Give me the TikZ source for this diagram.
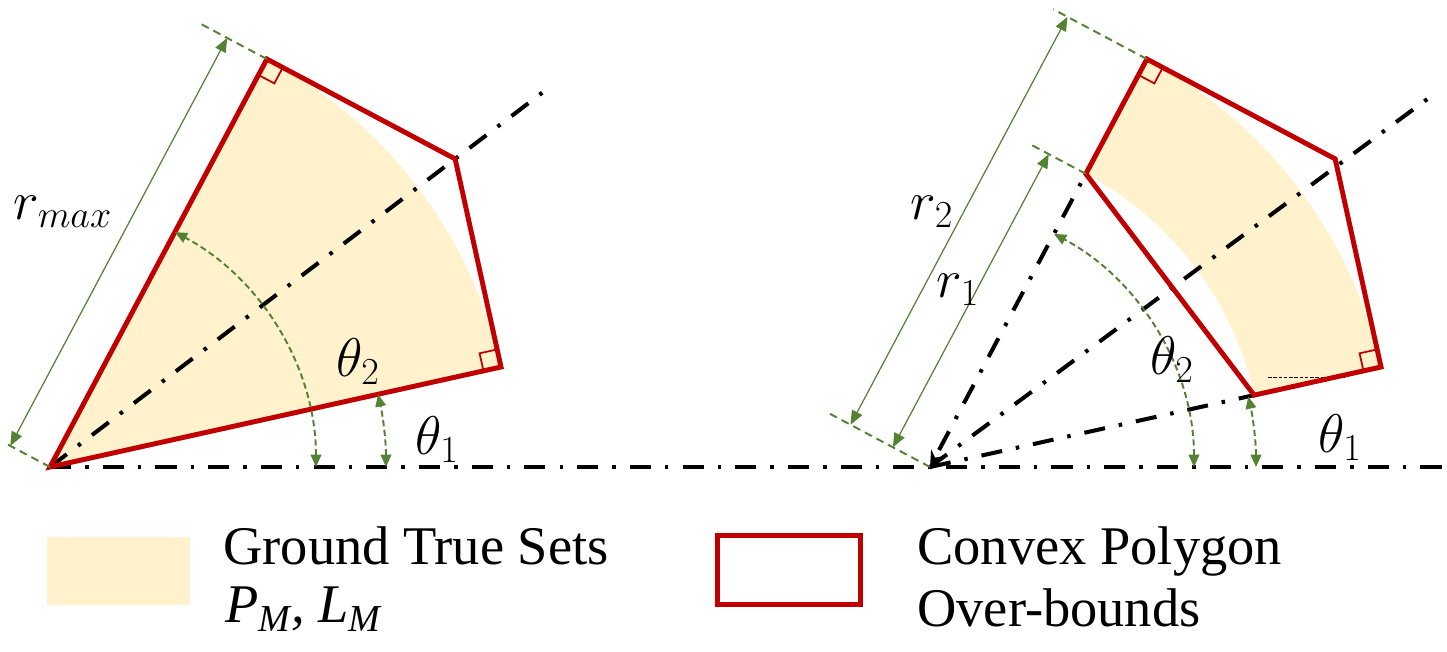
\RequirePackage{fix-cm}
\documentclass[tikz,border=0pt]{standalone}
\usepackage{fontspec}
\setmainfont{Liberation Serif}
\usepackage{tikz}
\usetikzlibrary{arrows.meta, calc}
\definecolor{hullred}{RGB}{192,0,0}
\definecolor{dimgreen}{RGB}{84,130,53}
\definecolor{gtyellow}{RGB}{255,242,204}
\tikzset{
  hull/.style={draw=hullred, line width=2.8pt, line join=miter},
  rightmark/.style={draw=hullred, line width=1pt},
  gtfill/.style={fill=gtyellow, draw=none},
  axisline/.style={black, line width=2.3pt,
    dash pattern=on 12pt off 8pt on 2pt off 8pt},
  dimline/.style={dimgreen, line width=0.7pt,
    {Triangle[length=8pt,width=6.5pt]}-{Triangle[length=8pt,width=6.5pt]}},
  extline/.style={dimgreen, line width=1.1pt, dash pattern=on 4.5pt off 3pt},
  anglearc/.style={dimgreen, line width=1.1pt, dash pattern=on 3.5pt off 2pt,
    {Triangle[length=7pt,width=6pt]}-{Triangle[length=7pt,width=6pt]}},
  lbl/.style={font=\fontsize{31}{36}\selectfont, inner sep=0pt},
  legendtext/.style={font=\fontsize{31}{36}\selectfont, anchor=base west,
    inner sep=0pt}
}

\begin{document}
\begin{tikzpicture}[x=0.02cm, y=0.02cm]
  \useasboundingbox (0,0) rectangle (1447,652);

  % sector (left)
  \coordinate (O1) at (50,185);
  \coordinate (A) at ($(O1)+(62:462)$);
  \coordinate (C) at ($(O1)+(12.5:462)$);
  \coordinate (B) at ($(O1)+(37.25:509)$);
  \coordinate (axisend) at (1447,185);

  \fill[gtfill] (O1) -- (C) arc[start angle=12.5, end angle=62, radius=462] -- cycle;
  \draw[axisline] (O1) -- (axisend);
  \draw[axisline] (O1) -- ($(O1)+(37.25:628)$);
  \draw[hull] (O1) -- (C) -- (B) -- (A) -- cycle;
  \draw[rightmark] ($(A)+(242:18)$) -- ++(332:18) -- ++(62:18);
  \draw[rightmark] ($(C)+(192.5:18)$) -- ++(102.5:18) -- ++(12.5:18);

  \draw[extline] (O1) -- ++(152:52);
  \draw[extline] (A) -- ++(152:74);
  \draw[dimline] ($(O1)+(152:45)$) -- ($(A)+(152:45)$);
  \node[lbl] (rmax) at (63,440) {$r_{max}$};

  \draw[anglearc] ($(O1)+(0:266)$) arc[start angle=0, end angle=62, radius=266];
  \draw[anglearc] ($(O1)+(0:336)$) arc[start angle=0, end angle=12.5, radius=336];
  \node[lbl] (thtwoL) at (358,290) {$\theta_2$};
  \node[lbl] (thoneL) at (437,212) {$\theta_1$};

  % annular sector (right)
  \coordinate (O2) at (930,185);
  \coordinate (A2) at ($(O2)+(62:462)$);
  \coordinate (C2) at ($(O2)+(12.5:462)$);
  \coordinate (B2) at ($(O2)+(37.25:509)$);
  \coordinate (D2) at ($(O2)+(62:332)$);
  \coordinate (E2) at ($(O2)+(12.5:332)$);

  \fill[gtfill] (E2) -- (C2) arc[start angle=12.5, end angle=62, radius=462]
    -- (D2) arc[start angle=62, end angle=12.5, radius=332] -- cycle;
  \draw[black, line width=0.5pt, dash pattern=on 2pt off 1pt] (1268,275) -- (1347,275);
  \draw[axisline, -{Stealth[length=9pt,width=8pt]}] (A2) -- (O2);
  \draw[axisline] (O2) -- (C2);
  \draw[axisline] (O2) -- ($(O2)+(36.5:630)$);
  \draw[hull] (E2) -- (C2) -- (B2) -- (A2) -- (D2) -- cycle;
  \draw[rightmark] ($(A2)+(242:18)$) -- ++(332:18) -- ++(62:18);
  \draw[rightmark] ($(C2)+(192.5:18)$) -- ++(102.5:18) -- ++(12.5:18);

  \draw[extline] (O2) -- ++(152:115);
  \draw[extline] (A2) -- ++(152:106);
  \draw[extline] (D2) -- ++(152:64);
  \draw[dimline] ($(O2)+(152:90)$) -- ($(A2)+(152:90)$);
  \draw[dimline] ($(O2)+(152:42)$) -- ($(D2)+(152:42)$);
  \node[lbl] (rtwo) at (932,440) {$r_2$};
  \node[lbl] (rone) at (958,362) {$r_1$};

  \draw[anglearc] ($(O2)+(0:264)$) arc[start angle=0, end angle=62, radius=264];
  \draw[anglearc] ($(O2)+(0:326)$) arc[start angle=0, end angle=12.5, radius=326];
  \node[lbl] (thtwoR) at (1172,292) {$\theta_2$};
  \node[lbl] (thoneR) at (1340,214) {$\theta_1$};

  % legend
  \fill[gtfill] (47,47) rectangle (190,115);
  \node[legendtext] (gtTitle) at (223,87) {Ground True Sets};
  \node[legendtext] (gtSym) at (225,29) {\itshape P\textsubscript{M}, L\textsubscript{M}};
  \draw[hullred, line width=2.8pt] (717.5,47.5) rectangle (860.5,116.5);
  \node[legendtext] (hullTitle) at (917,87) {Convex Polygon};
  \node[legendtext] (hullSub) at (917,25) {Over-bounds};
\end{tikzpicture}
\end{document}
